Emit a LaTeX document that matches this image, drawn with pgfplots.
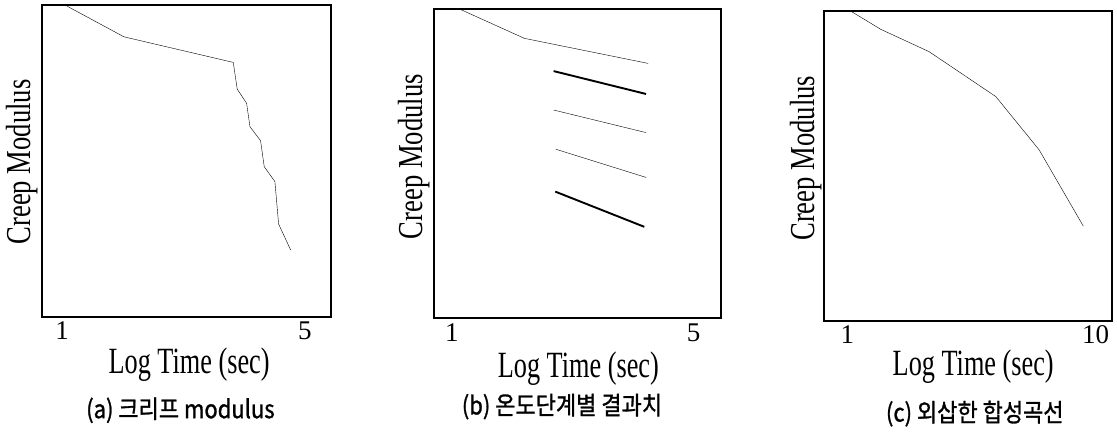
\documentclass[border=0pt]{standalone}
\usepackage{pgfplots}
\pgfplotsset{compat=1.18}
\usepackage{graphicx}
\usepackage{fontspec}
\setmainfont{Liberation Serif}
\newfontfamily\kr[BoldFont=Noto Sans CJK KR, BoldFeatures={FakeBold=1.2}]{Noto Sans CJK KR}
\pgfplotsset{
  creep/.style={
    scale only axis,
    anchor=south west,
    ymin=0, ymax=100,
    ytick=\empty,
    major tick length=0pt,
    axis line style={line width=1.9pt},
    /pgf/number format/assume math mode=true,
    xticklabel style={font=\fontsize{27}{27}\selectfont, anchor=center, yshift=-14pt},
    xlabel style={font=\fontsize{37}{37}\selectfont, anchor=center},
    ylabel style={font=\fontsize{35}{35}\selectfont, anchor=center},
    title style={font=\kr\bfseries\fontsize{25}{25}\selectfont, anchor=center},
    xlabel={\scalebox{0.71}[1]{Log Time (sec)}},
    ylabel={\scalebox{0.76}[1]{Creep Modulus}},
    cycle list={{black, line width=1.9pt, no markers}},
  }
}
\begin{document}
\begin{tikzpicture}[x=1pt,y=1pt]
\path[use as bounding box] (0,0) rectangle (1117,432);
% (a)
\begin{axis}[creep,
  at={(42pt,115pt)}, width=289pt, height=312pt,
  xmin=0.67, xmax=5.43, xtick={1,5},
  xlabel style={at={(axis description cs:0.509,-0.154)}},
  ylabel style={at={(axis description cs:-0.070,0.497)}},
  title={\scalebox{0.88}[1]{(a) 크리프 modulus}},
  title style={at={(axis description cs:0.479,-0.318)}},
]
\addplot coordinates {(1.05,101) (1.077,99.7) (2.02,89.8) (3.82,81.6) (3.886,73.0) (4.04,68.5) (4.095,61.0) (4.27,56.5) (4.33,48.2) (4.506,43.4) (4.567,29.8) (4.765,21.5)};
\end{axis}
% (b)
\begin{axis}[creep,
  at={(433.7pt,113.7pt)}, width=287.6pt, height=309pt,
  xmin=0.70, xmax=5.457, xtick={1,5},
  xlabel style={at={(axis description cs:0.503,-0.162)}},
  ylabel style={at={(axis description cs:-0.0695,0.523)}},
  title={\scalebox{0.88}[1]{(b) 온도단계별 결과치}},
  title style={at={(axis description cs:0.446,-0.305)}},
]
\addplot coordinates {(1.10,101) (1.137,100) (2.20,90.6) (4.245,82.5)};
\addplot coordinates {(2.684,80.0) (4.212,72.6)};
\addplot coordinates {(2.684,67.4) (4.212,60.1)};
\addplot coordinates {(2.722,54.7) (4.212,45.6)};
\addplot coordinates {(2.711,41.0) (4.184,29.6)};
\end{axis}
% (c)
\begin{axis}[creep,
  at={(824pt,111.3pt)}, width=288.3pt, height=310pt,
  xmin=0.156, xmax=10.6, xtick={1,10},
  xlabel style={at={(axis description cs:0.5175,-0.148)}},
  ylabel style={at={(axis description cs:-0.0635,0.524)}},
  title={\scalebox{0.88}[1]{(c) 외삽한 합성곡선}},
  title style={at={(axis description cs:0.523,-0.319)}},
]
\addplot coordinates {(1.05,101) (1.10,100) (2.21,94.0) (3.96,86.8) (6.38,72.3) (7.95,55.1) (9.55,30.5)};
\end{axis}
\end{tikzpicture}
\end{document}
